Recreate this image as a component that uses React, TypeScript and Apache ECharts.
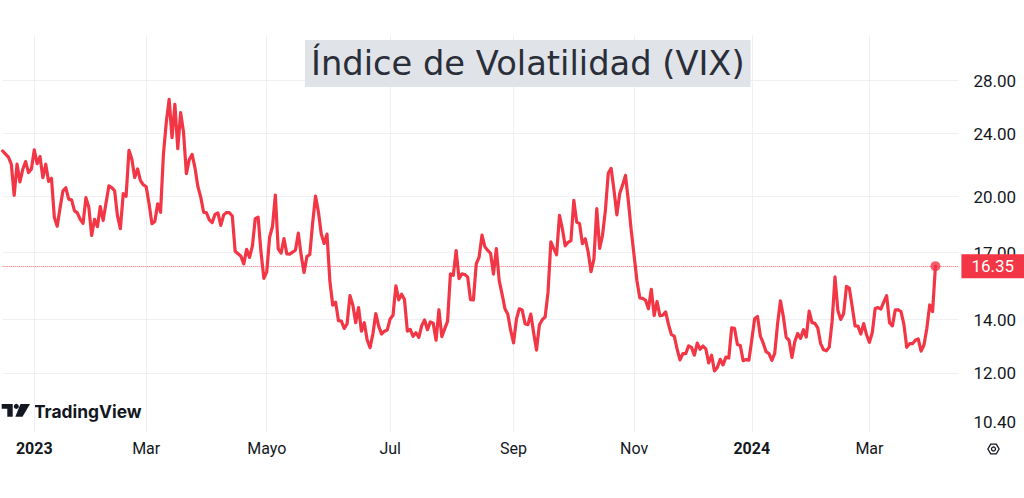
import React, { useEffect, useRef } from "react";
import * as echarts from "echarts";

// ---------- data ----------
const START_DATE = "2022-12-15";
const END_DATE = "2024-04-16"; // axis runs a few sessions past the last close
const HOLIDAYS = [
  "2022-12-26", "2023-01-02", "2023-01-16", "2023-02-20", "2023-04-07",
  "2023-05-29", "2023-06-19", "2023-07-04", "2023-09-04", "2023-11-23",
  "2023-12-25", "2024-01-01", "2024-01-15", "2024-02-19", "2024-03-29",
];

const vixDec2022 = [22.83, 22.62, 22.42, 21.97, 20.07, 21.97, 20.87, 21.65, 22.14, 21.44, 21.67];
const vixJan2023 = [22.9, 22.01, 22.46, 21.13, 21.97, 20.9, 21.09, 18.83, 18.35, 19.36, 20.34, 20.52, 19.85, 19.81, 19.2, 19.08, 18.73, 18.51, 19.94, 19.4];
const vixFeb2023 = [17.87, 18.73, 18.33, 19.43, 18.66, 19.63, 20.63, 20.53, 20.34, 18.91, 18.23, 20.17, 20.02, 22.87, 22.29, 21.14, 21.67, 20.95, 20.7];
const vixMar2023 = [20.58, 19.59, 18.49, 18.61, 19.59, 19.11, 22.61, 24.8, 26.52, 23.73, 26.14, 22.99, 25.51, 24.12, 21.38, 22.26, 22.61, 21.74, 20.6, 19.97, 19.12, 19.08, 18.7];
const vixApr2023 = [18.55, 19.0, 19.08, 18.4, 18.97, 19.1, 19.09, 18.91, 17.07, 16.95, 16.83, 16.46, 17.17, 16.77, 17.33, 18.76, 18.84, 17.03, 15.78];
const vixMay2023 = [16.08, 17.78, 18.34, 20.09, 17.19, 16.98, 17.71, 16.94, 16.93, 17.03, 17.12, 17.99, 16.87, 16.05, 16.81, 16.91, 18.53, 20.03, 19.14, 17.95, 17.46, 17.94];
const vixJun2023 = [15.65, 14.6, 14.73, 13.96, 13.94, 13.65, 13.83, 15.01, 14.61, 13.88, 14.5, 13.54, 13.88, 13.2, 12.91, 13.44, 14.25, 13.74, 13.43, 13.54, 13.59];
const vixJul2023 = [14.03, 14.18, 15.44, 14.83, 15.07, 14.84, 13.54, 13.61, 13.34, 13.48, 13.3, 13.76, 13.99, 13.6, 13.91, 13.86, 13.19, 14.41, 13.33, 13.63];
const vixAug2023 = [13.93, 15.99, 15.92, 17.1, 15.77, 15.99, 15.96, 15.85, 14.84, 14.82, 16.46, 16.78, 17.89, 17.3, 17.11, 16.97, 15.98, 17.2, 15.68, 15.08, 14.45, 14.22, 13.57];
const vixSep2023 = [13.09, 14.02, 14.45, 14.4, 13.84, 13.8, 14.23, 13.48, 12.82, 13.79, 14.0, 14.11, 15.14, 17.54, 17.2, 16.9, 18.94, 18.22, 17.34, 17.52];
const vixOct2023 = [17.61, 19.78, 18.58, 18.49, 17.45, 17.7, 17.03, 16.09, 16.69, 19.32, 17.21, 17.88, 19.22, 21.4, 21.71, 20.37, 18.97, 20.19, 20.68, 21.27, 19.75, 18.14];
const vixNov2023 = [16.87, 15.66, 14.91, 14.89, 14.81, 14.45, 15.29, 14.17, 14.76, 14.16, 14.18, 14.32, 13.8, 13.41, 13.35, 12.85, 12.46, 12.69, 12.69, 12.98, 12.92];
const vixDec2023 = [12.63, 13.08, 12.85, 12.97, 12.86, 12.35, 12.63, 12.07, 12.19, 12.48, 12.28, 12.56, 12.53, 13.67, 13.65, 13.03, 12.99, 12.43, 12.47, 12.45];
const vixJan2024 = [13.2, 14.04, 14.13, 13.35, 13.08, 12.76, 12.69, 12.44, 12.7, 13.84, 14.79, 14.13, 13.3, 13.19, 12.55, 13.14, 13.45, 13.26, 13.6, 13.31, 14.35];
const vixFeb2024 = [13.88, 13.85, 13.67, 13.06, 12.83, 12.79, 12.93, 13.93, 15.85, 14.38, 14.01, 14.24, 15.42, 15.34, 14.54, 13.75, 13.74, 13.43, 13.84, 13.4];
const vixMar2024 = [13.11, 13.49, 14.46, 14.5, 14.44, 14.74, 15.01, 13.88, 13.75, 14.4, 14.41, 14.33, 13.82, 12.92, 13.06, 13.06, 13.19, 13.24, 12.78, 13.01];
const vixApr2024 = [13.65, 14.61, 14.33, 16.35];

const VIX = [
  ...vixDec2022, ...vixJan2023, ...vixFeb2023, ...vixMar2023, ...vixApr2023,
  ...vixMay2023, ...vixJun2023, ...vixJul2023, ...vixAug2023, ...vixSep2023,
  ...vixOct2023, ...vixNov2023, ...vixDec2023, ...vixJan2024, ...vixFeb2024,
  ...vixMar2024, ...vixApr2024,
];

const MONTH_TICKS = ["2023-01", "2023-03", "2023-05", "2023-07", "2023-09", "2023-11", "2024-01", "2024-03"];
const MONTH_TEXT = ["2023", "Mar", "Mayo", "Jul", "Sep", "Nov", "2024", "Mar"];
const YEAR_TEXT = ["2023", "2024"];
const PRICE_LABELS = [10.4, 12, 14, 17, 20, 24, 28];
const PRICE_GRID = [12, 14, 17, 20, 24, 28];
const TITLE = "Índice de Volatilidad (VIX)";
const BRAND = "TradingView";

// ---------- helpers ----------
function tradingDays(start: string, end: string, holidays: string[]) {
  const out: string[] = [];
  const hol = new Set(holidays);
  const d = new Date(start + "T00:00:00Z");
  const e = new Date(end + "T00:00:00Z");
  while (d <= e) {
    const wd = d.getUTCDay();
    const s = d.toISOString().slice(0, 10);
    if (wd !== 0 && wd !== 6 && !hol.has(s)) out.push(s);
    d.setUTCDate(d.getUTCDate() + 1);
  }
  return out;
}

const RED = "#f23645";
const TEXT = "#131722";
const GRID = "#eef0f4";

export default function App() {
  const ref = useRef<HTMLDivElement>(null);

  useEffect(() => {
    document.body.style.margin = "0";
    const chart = echarts.init(ref.current!, null, { renderer: "svg" });

    const dates = tradingDays(START_DATE, END_DATE, HOLIDAYS);
    const tickByDate = new Map<string, string>();
    MONTH_TICKS.forEach((m, i) => {
      const first = dates.find((d) => d.startsWith(m));
      if (first) tickByDate.set(first, MONTH_TEXT[i]);
    });
    const isTick = (_i: number, v: string) => tickByDate.has(v);
    const lastIdx = VIX.length - 1;
    const last = VIX[lastIdx];

    const hx = 993.5, hy = 449, hr = 5.6;
    const hex: number[][] = [];
    for (let k = 0; k < 6; k++) {
      const a = (Math.PI / 3) * k;
      hex.push([hx + hr * Math.cos(a), hy + hr * Math.sin(a)]);
    }

    chart.setOption({
      animation: false,
      backgroundColor: "#ffffff",
      title: {
        text: TITLE,
        left: 305,
        top: 40,
        backgroundColor: "#e0e3e8",
        padding: [6, 6, 6, 6],
        textStyle: {
          fontFamily: "DejaVu Sans",
          fontSize: 33.7,
          fontWeight: "normal",
          color: "#2a2e39",
          lineHeight: 35,
        },
      },
      grid: {
        left: 2.7,
        right: 65.6,
        top: 35,
        bottom: 66,
        outerBoundsMode: "none",
      },
      xAxis: {
        type: "category",
        data: dates,
        boundaryGap: false,
        axisLine: { show: false },
        axisTick: { show: false },
        axisLabel: {
          interval: isTick,
          formatter: (v: string) => {
            const t = tickByDate.get(v) || "";
            return YEAR_TEXT.includes(t) ? `{b|${t}}` : t;
          },
          color: TEXT,
          fontSize: 16,
          fontFamily: "Roboto",
          margin: 8,
          rich: {
            b: { fontWeight: "bold", fontSize: 16, color: TEXT, fontFamily: "Roboto" },
          },
        },
        splitLine: { show: true, interval: isTick, lineStyle: { color: GRID, width: 1 } },
      },
      yAxis: {
        type: "log",
        logBase: 10,
        min: 10.11,
        max: 31.95,
        position: "right",
        axisLine: { show: false },
        axisTick: { show: false, customValues: PRICE_GRID },
        axisLabel: {
          customValues: PRICE_LABELS,
          formatter: (v: number) => Number(v).toFixed(2),
          color: TEXT,
          fontSize: 17,
          fontFamily: "Roboto",
          margin: 15,
        },
        splitLine: { show: true, lineStyle: { color: GRID, width: 1 } },
      },
      series: [
        {
          type: "line",
          data: VIX,
          showSymbol: false,
          symbol: "none",
          lineStyle: { color: RED, width: 3.2, join: "round", cap: "round" },
          itemStyle: { color: RED },
          z: 3,
          markLine: {
            silent: true,
            symbol: ["none", "none"],
            data: [{ yAxis: last }],
            lineStyle: { color: "rgba(242,54,69,0.75)", type: "dotted", width: 1 },
            label: {
              show: true,
              position: "end",
              distance: 3,
              formatter: () => last.toFixed(2),
              backgroundColor: RED,
              color: "#ffffff",
              fontSize: 17,
              fontFamily: "Roboto",
              padding: [4, 10, 3, 10],
            },
            z: 10,
          },
        },
        {
          type: "scatter",
          data: [[dates[lastIdx], last]],
          symbol: "circle",
          symbolSize: 10,
          itemStyle: { color: RED },
          silent: true,
          z: 4,
        },
      ],
      graphic: [
        {
          type: "group",
          silent: true,
          children: [
            {
              type: "polygon",
              shape: { points: [[1.7, 404], [12.7, 404], [12.7, 416.7], [7.3, 416.7], [7.3, 408.7], [1.7, 408.7]] },
              style: { fill: TEXT },
            },
            { type: "circle", shape: { cx: 16.3, cy: 406.4, r: 2.5 }, style: { fill: TEXT } },
            {
              type: "polygon",
              shape: { points: [[20.5, 404], [30, 404], [22.5, 416.7], [15.3, 416.7]] },
              style: { fill: TEXT },
            },
            {
              type: "text",
              x: 34,
              y: 411,
              style: {
                text: BRAND,
                fill: TEXT,
                font: "bold 17.4px Inter",
                textVerticalAlign: "middle",
                verticalAlign: "middle",
              },
            },
            {
              type: "polygon",
              shape: { points: hex },
              style: { fill: "none", stroke: TEXT, lineWidth: 1.3 },
            },
            { type: "circle", shape: { cx: hx, cy: hy, r: 2 }, style: { fill: "none", stroke: TEXT, lineWidth: 1.3 } },
          ],
        },
      ],
    });

    return () => chart.dispose();
  }, []);

  return <div ref={ref} style={{ position: "fixed", left: 0, top: 0, width: 1024, height: 498 }} />;
}
